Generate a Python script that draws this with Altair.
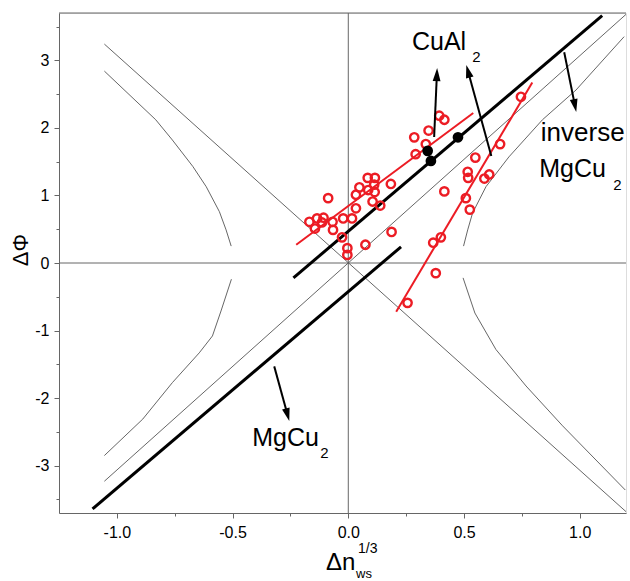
import math
import pandas as pd
import altair as alt

# ---------------- data ----------------
# thin reference lines through the origin
cross_up_x = [-1.054, 1.20]
cross_up_y = [-3.23, 3.68]
cross_dn_x = [-1.054, 1.20]
cross_dn_y = [3.24, -3.68]
# thin hyperbola-like branches
ul_x = [-1.054, -0.832, -0.760, -0.672, -0.614, -0.557, -0.528, -0.506]
ul_y = [2.84, 2.12, 1.82, 1.43, 1.13, 0.76, 0.49, 0.25]
ll_x = [-1.054, -0.888, -0.760, -0.644, -0.587, -0.550, -0.505]
ll_y = [-2.85, -2.31, -1.77, -1.33, -1.08, -0.71, -0.24]
ur_x = [0.498, 0.516, 0.537, 0.595, 0.694, 0.839, 0.984, 1.192]
ur_y = [0.25, 0.49, 0.74, 1.13, 1.57, 2.12, 2.56, 3.35]
lr_x = [0.496, 0.547, 0.638, 0.768, 0.926, 1.197]
lr_y = [-0.22, -0.74, -1.28, -1.82, -2.41, -3.36]

# thick black lines (CuAl2 upper, MgCu2 lower)
blk_upper_x = [-0.237, 1.097]
blk_upper_y = [-0.22, 3.66]
blk_lower_x = [-1.105, 0.228]
blk_lower_y = [-3.64, 0.24]

# red fit lines
red_a_x = [-0.225, 0.540]
red_a_y = [0.27, 2.22]
red_b_x = [0.207, 0.795]
red_b_y = [-0.72, 2.67]

# red open circles
red_x = [-0.087, 0.084, 0.115, 0.048, 0.112, 0.184, 0.086, 0.114, 0.033, 0.105,
         0.138, 0.033, -0.168, -0.135, -0.107, -0.114, -0.144, -0.068, -0.066, -0.022,
         0.016, -0.027, -0.004, -0.004, 0.074, 0.187,
         0.393, 0.415, 0.347, 0.285, 0.335, 0.291,
         0.746, 0.656, 0.549, 0.516, 0.518, 0.609, 0.588, 0.415, 0.508, 0.525,
         0.400, 0.367, 0.378, 0.256]
red_y = [0.96, 1.26, 1.26, 1.12, 1.16, 1.17, 1.08, 1.05, 1.01, 0.91,
         0.85, 0.81, 0.61, 0.66, 0.67, 0.60, 0.51, 0.61, 0.49, 0.66,
         0.66, 0.38, 0.22, 0.12, 0.27, 0.46,
         2.18, 2.12, 1.96, 1.86, 1.76, 1.61,
         2.46, 1.76, 1.56, 1.35, 1.26, 1.31, 1.25, 1.06, 0.96, 0.79,
         0.38, 0.30, -0.15, -0.59]

# black filled dots
dot_x = [0.343, 0.357, 0.474]
dot_y = [1.66, 1.51, 1.86]

# arrows (start -> tip)
arr_x1 = [0.371, 0.618, 0.933, -0.320]
arr_y1 = [1.866, 1.585, 3.12, -1.53]
arr_x2 = [0.384, 0.510, 0.985, -0.255]
arr_y2 = [2.885, 2.93, 2.235, -2.34]

# labels (data coordinates of the left baseline)
lab_text = ["CuAl", "MgCu", "MgCu"]
lab_x = [0.275, 0.825, -0.415]
lab_y = [3.15, 1.27, -2.71]
inv_text = ["inverse"]
inv_x = [0.832]
inv_y = [1.80]
sub_text = ["2", "2", "2"]
sub_x = [0.536, 1.145, -0.121]
sub_y = [2.97, 1.08, -2.88]

# ---------------- layout ----------------
W, H = 567, 500
XDOM = [-1.25, 1.20]
YDOM = [-3.7, 3.7]
FONT = "Liberation Sans"
AX = "#666666"
THIN = "#555555"
RED = "#ec1c24"

kx = W / (XDOM[1] - XDOM[0])
ky = H / (YDOM[1] - YDOM[0])

xscale = alt.Scale(domain=XDOM, nice=False, zero=False)
yscale = alt.Scale(domain=YDOM, nice=False, zero=False)

xaxis = alt.Axis(
    values=[-1, -0.75, -0.5, -0.25, 0, 0.25, 0.5, 0.75, 1],
    labelExpr="(datum.value*2) % 1 === 0 ? (datum.value < 0 ? '-' + format(-datum.value, '.1f') : format(datum.value, '.1f')) : ''",
    tickSize={"condition": {"test": "(datum.value*2) % 1 === 0", "value": 5}, "value": 3},
    grid=False, title=None, domainColor=AX, tickColor=AX, labelColor="black",
    labelFont=FONT, labelFontSize=16, labelPadding=6, labelFlush=False,
    labelOverlap=False, labelBound=False,
)
yaxis = alt.Axis(
    values=[-3.5, -3, -2.5, -2, -1.5, -1, -0.5, 0, 0.5, 1, 1.5, 2, 2.5, 3, 3.5],
    labelExpr="datum.value % 1 === 0 ? (datum.value < 0 ? '-' + format(-datum.value, 'd') : format(datum.value, 'd')) : ''",
    tickSize={"condition": {"test": "datum.value % 1 === 0", "value": 5}, "value": 3},
    grid=False, title=None, domainColor=AX, tickColor=AX, labelColor="black",
    labelFont=FONT, labelFontSize=16, labelPadding=5, labelFlush=False,
    labelOverlap=False, labelBound=False,
)
X = alt.X("x:Q", scale=xscale, axis=xaxis)
Y = alt.Y("y:Q", scale=yscale, axis=yaxis)


def lines_df(segs):
    rows = []
    for i, (xs, ys) in enumerate(segs):
        for j, (a, b) in enumerate(zip(xs, ys)):
            rows.append({"x": a, "y": b, "id": i, "ord": j})
    return pd.DataFrame(rows)


# zero lines
zero_v = alt.Chart(pd.DataFrame({"x": [0.0]})).mark_rule(color=AX, strokeWidth=1).encode(x=X)
zero_h = alt.Chart(pd.DataFrame({"y": [0.0]})).mark_rule(color=AX, strokeWidth=1).encode(y=Y)
top_border = alt.Chart(pd.DataFrame({"a": [0]})).mark_rule(color=AX, strokeWidth=1).encode(
    x=alt.value(0), x2=alt.value(W), y=alt.value(0))

thin = alt.Chart(lines_df([(cross_up_x, cross_up_y), (cross_dn_x, cross_dn_y),
                           (ul_x, ul_y), (ll_x, ll_y), (ur_x, ur_y), (lr_x, lr_y)])
                 ).mark_line(color=THIN, strokeWidth=0.9).encode(
    x=X, y=Y, detail="id:N", order="ord:Q")

black = alt.Chart(lines_df([(blk_upper_x, blk_upper_y), (blk_lower_x, blk_lower_y)])
                  ).mark_line(color="black", strokeWidth=3).encode(
    x=X, y=Y, detail="id:N", order="ord:Q")

red_lines = alt.Chart(lines_df([(red_a_x, red_a_y), (red_b_x, red_b_y)])
                      ).mark_line(color=RED, strokeWidth=2).encode(
    x=X, y=Y, detail="id:N", order="ord:Q")

circles = alt.Chart(pd.DataFrame({"x": red_x, "y": red_y})).mark_point(
    shape="circle", filled=False, color=RED, strokeWidth=2.4, size=70, opacity=1).encode(x=X, y=Y)

dots = alt.Chart(pd.DataFrame({"x": dot_x, "y": dot_y})).mark_point(
    shape="circle", filled=True, color="black", size=115, opacity=1).encode(x=X, y=Y)

# arrows
HEAD = 13.0
rows = []
for a, b, c, d in zip(arr_x1, arr_y1, arr_x2, arr_y2):
    dxp = (c - a) * kx
    dyp = -(d - b) * ky
    L = math.hypot(dxp, dyp)
    ux, uy = dxp / L, dyp / L
    ang = math.degrees(math.atan2(dxp, -dyp)) % 360
    hx = c - ux * (HEAD / 2) / kx
    hy = d + uy * (HEAD / 2) / ky
    rows.append({"x": a, "y": b, "x2": hx, "y2": hy, "hx": hx, "hy": hy, "ang": ang})
arr_df = pd.DataFrame(rows)

arrow_shafts = alt.Chart(arr_df).mark_rule(color="black", strokeWidth=2).encode(
    x=X, y=Y, x2="x2:Q", y2="y2:Q")
arrow_heads = alt.Chart(arr_df).mark_point(
    shape="M0,-1L0.6,1L-0.6,1Z", filled=True, color="black", size=HEAD * HEAD, opacity=1
).encode(x=alt.X("hx:Q", scale=xscale, axis=xaxis), y=alt.Y("hy:Q", scale=yscale, axis=yaxis),
         angle=alt.Angle("ang:Q", scale=None))

labels = alt.Chart(pd.DataFrame({"x": lab_x, "y": lab_y, "t": lab_text})).mark_text(
    font=FONT, fontSize=25, align="left", baseline="alphabetic", color="black").encode(
    x=X, y=Y, text="t:N")
inv_label = alt.Chart(pd.DataFrame({"x": inv_x, "y": inv_y, "t": inv_text})).mark_text(
    font=FONT, fontSize=26, align="left", baseline="alphabetic", color="black").encode(
    x=X, y=Y, text="t:N")
subs = alt.Chart(pd.DataFrame({"x": sub_x, "y": sub_y, "t": sub_text})).mark_text(
    font=FONT, fontSize=15, align="left", baseline="alphabetic", color="black").encode(
    x=X, y=Y, text="t:N")

# axis titles (composite text)
one = pd.DataFrame({"a": [0]})
ytitle = alt.Chart(one).mark_text(font=FONT, fontSize=22, angle=270, align="center",
                                  baseline="middle", color="black", text="ΔΦ").encode(
    x=alt.value(-38), y=alt.value(237))
xt_main = alt.Chart(one).mark_text(font=FONT, fontSize=24, align="left",
                                   baseline="alphabetic", color="black", text="Δn").encode(
    x=alt.value(267), y=alt.value(557))
xt_sup = alt.Chart(one).mark_text(font=FONT, fontSize=14, align="left",
                                  baseline="alphabetic", color="black", text="1/3").encode(
    x=alt.value(299), y=alt.value(540))
xt_sub = alt.Chart(one).mark_text(font=FONT, fontSize=13, align="left",
                                  baseline="alphabetic", color="black", text="ws").encode(
    x=alt.value(297), y=alt.value(565))

chart = alt.layer(
    zero_v, zero_h, top_border, thin, black, red_lines, circles, dots,
    arrow_shafts, arrow_heads, labels, inv_label, subs, ytitle, xt_main, xt_sup, xt_sub,
).properties(
    width=W, height=H,
    padding={"left": 59, "top": 13, "right": 4, "bottom": 68},
    autosize=alt.AutoSizeParams(type="none"),
).configure_view(strokeWidth=0).configure(background="white")

chart.save("out.html", embed_options={"renderer": "svg", "actions": False})
